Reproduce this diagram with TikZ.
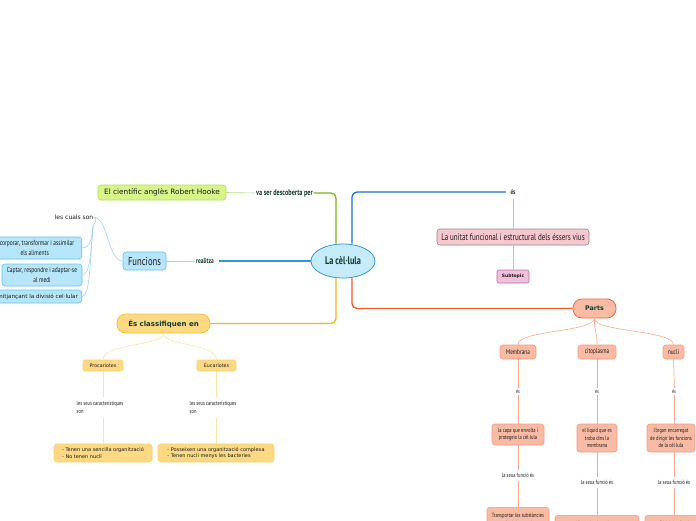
\documentclass[tikz,border=0pt]{standalone}
\usepackage{fontspec}
\usetikzlibrary{shapes.geometric}
\newfontfamily\cond[FakeStretch=0.75]{PT Sans}
\newfontfamily\wide{DejaVu Sans}
\definecolor{cellf}{HTML}{C6ECFB}
\definecolor{cellb}{HTML}{2E9BD6}
\definecolor{hookef}{HTML}{D8F58A}
\definecolor{hookeb}{HTML}{B5DC58}
\definecolor{grn}{HTML}{7CB518}
\definecolor{grnl}{HTML}{B8DC7A}
\definecolor{blu}{HTML}{1E6FCF}
\definecolor{blul}{HTML}{A9C4E8}
\definecolor{pinkf}{HTML}{F8C8D0}
\definecolor{pinkb}{HTML}{9A8088}
\definecolor{subf}{HTML}{F3C0DC}
\definecolor{subb}{HTML}{B070A0}
\definecolor{funf}{HTML}{B7E6FA}
\definecolor{funb}{HTML}{5CC4EF}
\definecolor{cyan2}{HTML}{2A9AD8}
\definecolor{cyanl}{HTML}{9FD6F2}
\definecolor{yel}{HTML}{F7B518}
\definecolor{yelf}{HTML}{FDD984}
\definecolor{yelb}{HTML}{F8BF3A}
\definecolor{yelsb}{HTML}{F8D070}
\definecolor{yell}{HTML}{FDE3A0}
\definecolor{org}{HTML}{F05A28}
\definecolor{orgf}{HTML}{F9BBA4}
\definecolor{orgb}{HTML}{EF6A44}
\definecolor{orgsb}{HTML}{F49C80}
\definecolor{orgl}{HTML}{F7A88C}
\definecolor{dkg}{HTML}{10392C}
\definecolor{txt}{HTML}{1A1A1A}
\newcommand{\fsz}[1]{\pgfmathsetmacro\myBS{#1*1.25}\fontsize{#1}{\myBS}\selectfont}
\tikzset{
  bx/.style={draw, rounded corners=3pt, line width=0.6pt, inner sep=0pt, align=center, text=txt},
  pill/.style={draw, rounded corners=9pt, line width=0.8pt, inner sep=0pt, align=center, text=dkg},
  lab/.style={inner sep=0.5pt, align=center, text=txt},
  thinln/.style={line width=0.6pt},
  thickln/.style={line width=1.3pt, rounded corners=5pt},
  cf/.style={font=\cond\fsz{#1}},
  cbf/.style={font=\cond\bfseries\fsz{#1}},
  wf/.style={font=\wide\fsz{#1}},
  wbf/.style={font=\wide\bfseries\fsz{#1}},
}
\begin{document}
\begin{tikzpicture}[x=1pt,y=1pt]
\useasboundingbox (0,0) rectangle (696,-520);
\clip (0,0) rectangle (696,-520);
\fill[white] (0,0) rectangle (696,-520);

% central
\node[ellipse, draw=cellb, fill=cellf, line width=0.8pt, minimum width=64pt, minimum height=34pt, inner sep=0pt, text=dkg, cbf=11] (cel) at (343,-261) {La cèl·lula};

% Robert Hooke
\node[bx, fill=hookef, draw=hookeb, minimum width=128pt, minimum height=15pt, wf=7.3] (hooke) at (162,-192.5) {El científic anglès Robert Hooke};
\node[lab, text=dkg, cbf=8.3] (vsd) at (284.5,-193) {va ser descoberta per};
\draw[thinln, grnl] (hooke.east) -- (vsd.west);
\draw[thickln, grn] (vsd.east) -| ([xshift=-7pt]cel.north);

% és
\node[lab, text=dkg, cbf=7] (es0) at (513,-192) {és};
\draw[thickln, blu] ([xshift=9pt]cel.north) |- ([xshift=-4pt]es0.west);
\node[bx, fill=pinkf, draw=pinkb, minimum width=152pt, minimum height=16pt, cf=9.4] (unit) at (513,-237) {La unitat funcional i estructural dels éssers vius};
\node[bx, fill=subf, draw=subb, minimum width=32pt, minimum height=13pt, rounded corners=2pt, wbf=4.5] (sub) at (513,-276.5) {Subtopic};
\draw[thinln, blul] ([yshift=-4pt]es0.south) -- (unit.north);
\draw[thinln, blul] (unit.south) -- (sub.north);

% Funcions
\node[bx, fill=funf, draw=funb, minimum width=43pt, minimum height=18pt, cf=11.5] (func) at (144.5,-261) {Funcions};
\node[lab, text=dkg, cbf=7.3] (real) at (205,-261) {realitza};
\draw[thinln, cyanl] (func.east) -- (real.west);
\draw[thickln, cyan2] ([xshift=4pt]real.east) -- (cel.west);

\node[lab, anchor=east, wf=6] (lcs) at (94,-217) {les cuals son};
\coordinate (hub) at (93,-226);
\draw[thinln, cyanl] (lcs.east) .. controls (108,-218) and (108,-261) .. (func.west);
\draw[thinln, cyanl] (lcs.east) .. controls (98,-220) and (95,-222) .. (hub);

\node[bx, fill=funf, draw=funb, minimum width=94pt, minimum height=22pt, anchor=east, cf=7.3] (b1) at (82,-248) {Incorporar, transformar i assimilar\\ els aliments};
\node[bx, fill=funf, draw=funb, minimum width=80pt, minimum height=22pt, cf=7.3] (b2) at (42,-275) {Captar, respondre i adaptar-se\\ al medi};
\node[bx, fill=funf, draw=funb, minimum width=125pt, minimum height=13pt, anchor=east, wf=5.6] (b3) at (82,-296.5) {Reproduir-se mitjançant la divisió cel·lular};
\draw[thinln, cyanl] (hub) .. controls (92,-238) and (90,-248) .. (b1.east);
\draw[thinln, cyanl] (hub) .. controls (91,-250) and (90,-275) .. (b2.east);
\draw[thinln, cyanl] (hub) .. controls (90,-262) and (90,-296.5) .. (b3.east);

% classifiquen
\node[pill, fill=yelf, draw=yelb, minimum width=93pt, minimum height=19pt, wbf=7] (cls) at (163.5,-323.5) {És classifiquen en};
\draw[thickln, yel] (cls.east) -| ([xshift=-7pt]cel.south);

\node[bx, fill=yelf, draw=yelsb, minimum width=40pt, minimum height=11pt, rounded corners=2pt, wf=4.8] (proc) at (103,-365.5) {Procariotes};
\node[bx, fill=yelf, draw=yelsb, minimum width=39pt, minimum height=11pt, rounded corners=2pt, wf=4.8] (euc) at (216.5,-365.5) {Eucariotes};
\draw[thinln, yell] (cls.south) .. controls (164,-346) and (103,-343) .. (proc.north);
\draw[thinln, yell] (cls.south) .. controls (164,-346) and (216.5,-343) .. (euc.north);

\node[lab, anchor=west, align=left, cf=6] (pl) at (76,-407.5) {les seus característiques\\son};
\node[lab, anchor=west, align=left, cf=6] (el) at (189,-407.5) {les seus característiques\\son};
\node[bx, fill=yelf, draw=yelsb, minimum width=98pt, minimum height=18pt, align=left, wf=5] (pb) at (103,-453) {- Tenen una sencilla organització\\- No tenen nuclí};
\node[bx, fill=yelf, draw=yelsb, minimum width=116pt, minimum height=18pt, align=left, wf=5] (eb) at (216,-453) {- Posseixen una organització complexa\\- Tenen nucli menys les bacteries};
\draw[thinln, yell] (proc.south) -- (proc.south |- 0,-397);
\draw[thinln, yell] (pb.north |- 0,-418) -- (pb.north);
\draw[thinln, yell] (euc.south) -- (euc.south |- 0,-397);
\draw[thinln, yell] (eb.north |- 0,-418) -- (eb.north);

% Parts
\node[pill, fill=orgf, draw=orgb, minimum width=43pt, minimum height=19pt, wbf=6.3] (parts) at (594.5,-308.5) {Parts};
\draw[thickln, org] ([xshift=9pt]cel.south) |- (parts.west);

\node[bx, fill=orgf, draw=orgsb, minimum width=36pt, minimum height=14pt, cf=7] (mem) at (518,-352) {Membrana};
\node[bx, fill=orgf, draw=orgsb, minimum width=38pt, minimum height=14pt, cf=7] (cit) at (597,-352) {citoplasma};
\node[bx, fill=orgf, draw=orgsb, minimum width=21pt, minimum height=14pt, cf=7] (nuc) at (673.5,-352) {nucli};
\draw[thinln, orgl] (parts.south) .. controls (594,-332) and (518,-330) .. (mem.north);
\draw[thinln, orgl] (parts.south) .. controls (594,-332) and (597,-330) .. (cit.north);
\draw[thinln, orgl] (parts.south) .. controls (594,-332) and (673.5,-330) .. (nuc.north);

\node[lab, cf=5.5] (es1) at (518,-392) {és};
\node[lab, cf=5.5] (es2) at (597,-392) {és};
\node[lab, cf=5.5] (es3) at (674,-392) {és};

\node[bx, fill=orgf, draw=orgsb, minimum width=52pt, minimum height=21pt, cf=6] (m2) at (518,-434.5) {la capa que envolta i\\ protegeix la cèl·lula};
\node[bx, fill=orgf, draw=orgsb, minimum width=40pt, minimum height=28pt, cf=6] (c2) at (597,-438) {el líquid que es\\ troba dins la\\ membrana};
\node[bx, fill=orgf, draw=orgsb, minimum width=48pt, minimum height=28pt, cf=6] (n2) at (671,-438) {l'òrgan encarregat\\ de dirigir les funcions\\ de la cèl·lula};

\draw[thinln, orgl] (mem.south) -- (mem.south |- 0,-388);
\draw[thinln, orgl] (cit.south) -- (cit.south |- 0,-388);
\draw[thinln, orgl] (nuc.south) -- ([xshift=1pt]nuc.south |- 0,-388);
\draw[thinln, orgl] (es1.south) -- (es1.south |- m2.north);
\draw[thinln, orgl] (es2.south) -- (es2.south |- c2.north);
\draw[thinln, orgl] (es3.south) -- (es3.south |- n2.north);

\node[lab, cf=6] (f1) at (518,-475) {la seua funció és};
\node[lab, cf=6] (f2) at (597,-482) {la seua funció és};
\node[lab, cf=6] (f3) at (674,-482) {la seua funció és};

\node[bx, fill=orgf, draw=orgsb, minimum width=62pt, minimum height=24pt, anchor=north, cf=6] (m3) at (518,-507) {Transportar les substàncies\\ a través de la membrana};
\node[bx, fill=orgf, draw=orgsb, minimum width=84pt, minimum height=24pt, anchor=north, cf=6] (c3) at (597,-515) {Afavoreix el moviment\\ dels orgànuls};
\node[bx, fill=orgf, draw=orgsb, minimum width=66pt, minimum height=24pt, anchor=north, cf=6] (n3) at (678,-515) {Dirigir les funcions\\ de la cèl·lula};

\draw[thinln, orgl] (m2.south) -- (m2.south |- 0,-470);
\draw[thinln, orgl] (c2.south) -- (c2.south |- 0,-477);
\draw[thinln, orgl] ([xshift=3pt]n2.south) -- ([xshift=3pt]n2.south |- 0,-477);
\draw[thinln, orgl] (f1.south |- 0,-481) -- (m3.north);
\draw[thinln, orgl] (f2.south |- 0,-488) -- (c3.north);
\draw[thinln, orgl] ([xshift=3pt]n2.south |- 0,-488) -- ([xshift=3pt]n2.south |- n3.north);
\end{tikzpicture}
\end{document}
